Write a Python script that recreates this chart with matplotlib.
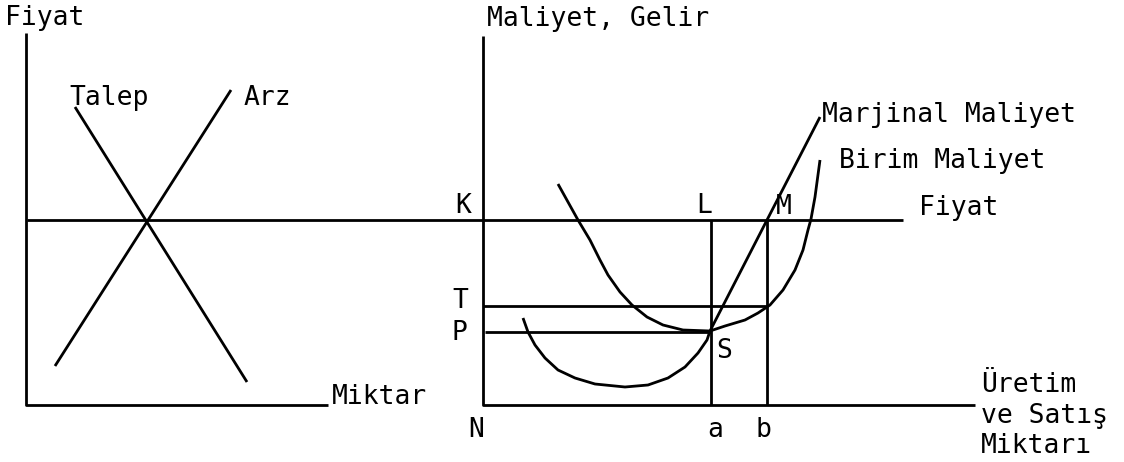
import matplotlib.pyplot as plt

# Everything is in picture pixel units (x right, y down)

# Left panel: supply / demand
left_axis_x = [26, 26, 328]
left_axis_y = [33, 405, 405]
talep_x = [75, 247]
talep_y = [107, 382]
arz_x = [55, 231]
arz_y = [366, 90]

# Price line runs across both panels
price_x = [27, 903]
price_y = [220, 220]

# Right panel: cost curves
right_axis_x = [483, 483, 975]
right_axis_y = [36, 405, 405]
a_x = [711, 711]
a_y = [220, 405]
b_x = [767, 767]
b_y = [220, 405]
t_line_x = [483, 767]
t_line_y = [306, 306]
p_line_x = [485, 711]
p_line_y = [332, 332]

# Marjinal maliyet
mc_x = [523, 528, 535, 545, 558, 575, 595, 625, 648, 668, 685, 698, 707, 710,
        767, 820]
mc_y = [318, 332, 345, 358, 370, 378, 384, 387, 385, 378, 367, 353, 340, 331,
        220, 117]

# Birim maliyet
ac_x = [558, 578, 590, 600, 608, 620, 632, 647, 663, 683, 710, 725, 745, 758,
        770, 783, 795, 803, 808, 811, 815, 820]
ac_y = [184, 220, 240, 260, 275, 292, 305, 317, 325, 330, 331, 326, 320, 313,
        305, 290, 270, 250, 230, 219, 197, 160]

# Labels: text, x (left edge), baseline y
labels = [
    ("Fiyat", 5, 25),
    ("Talep", 69, 105),
    ("Arz", 244, 105),
    ("Miktar", 332, 404),
    ("Maliyet, Gelir", 487, 26),
    ("K", 455, 213),
    ("L", 696, 213),
    ("M", 776, 214),
    ("T", 452, 308),
    ("P", 452, 340),
    ("S", 716, 358),
    ("N", 468, 437),
    ("a", 707, 437),
    ("b", 756, 437),
    ("Marjinal Maliyet", 822, 122),
    ("Birim Maliyet", 839, 168),
    ("Fiyat", 919, 215),
    ("Üretim", 981, 392),
    ("ve Satış", 981, 423),
    ("Miktarı", 981, 453),
]

fig = plt.figure(figsize=(11.24, 4.62), dpi=100)
ax = fig.add_axes([0, 0, 1, 1])
ax.set_xlim(0, 1124)
ax.set_ylim(462, 0)
ax.axis('off')

lw = 2.0
segments = [
    (left_axis_x, left_axis_y), (talep_x, talep_y), (arz_x, arz_y),
    (price_x, price_y), (right_axis_x, right_axis_y),
    (a_x, a_y), (b_x, b_y), (t_line_x, t_line_y), (p_line_x, p_line_y),
    (mc_x, mc_y), (ac_x, ac_y),
]
for xs, ys in segments:
    ax.plot(xs, ys, color='black', lw=lw, solid_capstyle='butt',
            solid_joinstyle='round')

for text, x, y in labels:
    ax.text(x, y, text, fontsize=19, family='DejaVu Sans Mono',
            ha='left', va='baseline', color='black')

fig.savefig('out.png', dpi=100, facecolor='white')
